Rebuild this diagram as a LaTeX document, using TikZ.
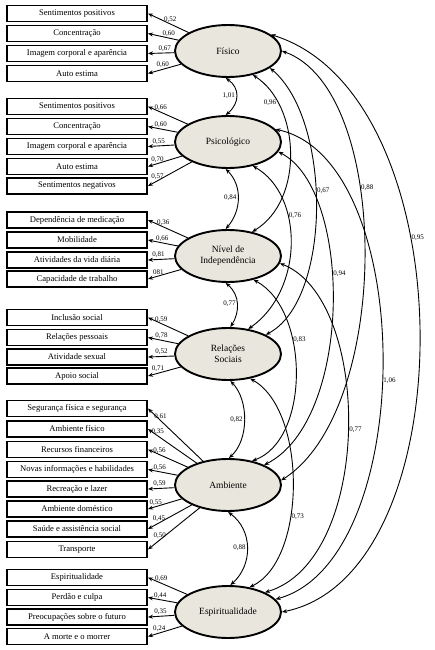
\documentclass[tikz,border=0pt]{standalone}
\usepackage{fontspec}
\setmainfont{Liberation Serif}
\usetikzlibrary{shapes.geometric,arrows.meta}
\definecolor{latfill}{RGB}{233,231,221}
\begin{document}
\begin{tikzpicture}[x=1pt,y=-1pt,
  obs/.style={draw,line width=1.9pt,fill=white,minimum width=140pt,minimum height=16pt,inner sep=0pt,font=\fontsize{8.6}{10}\selectfont},
  lat/.style={draw,ellipse,line width=1.9pt,fill=latfill,minimum width=106pt,minimum height=52pt,inner sep=0pt,align=center,font=\fontsize{9.5}{11}\selectfont},
  ld/.style={line width=0.9pt,-{Stealth[length=5pt,width=4pt]}},
  cv/.style={line width=0.9pt,{Stealth[length=5pt,width=4pt]}-{Stealth[length=5pt,width=4pt]}},
  cf/.style={font=\fontsize{7}{8}\selectfont,inner sep=1pt}]
\useasboundingbox (0,0) rectangle (435,650);

% latent factors
\node[lat] (F) at (228,51) {Físico};
\node[lat] (P) at (228,142) {Psicológico};
\node[lat] (N) at (228,256) {Nível de\\Independência};
\node[lat] (R) at (228,354) {Relações\\Sociais};
\node[lat] (A) at (228,485) {Ambiente};
\node[lat] (E) at (228,612) {Espiritualidade};

% observed boxes
\node[obs] (f1) at (77,13.5) {Sentimentos positivos};
\node[obs] (f2) at (77,33.5) {Concentração};
\node[obs] (f3) at (77,53.5) {Imagem corporal e aparência};
\node[obs] (f4) at (77,73.5) {Auto estima};

\node[obs] (p1) at (77,106.5) {Sentimentos positivos};
\node[obs] (p2) at (77,126.5) {Concentração};
\node[obs] (p3) at (77,146.5) {Imagem corporal e aparência};
\node[obs] (p4) at (77,166.5) {Auto estima};
\node[obs] (p5) at (77,186) {Sentimentos negativos};

\node[obs] (n1) at (77,220) {Dependência de medicação};
\node[obs] (n2) at (77,240) {Mobilidade};
\node[obs] (n3) at (77,260) {Atividades da vida diária};
\node[obs] (n4) at (77,279) {Capacidade de trabalho};

\node[obs] (r1) at (77,317.5) {Inclusão social};
\node[obs] (r2) at (77,337.5) {Relações pessoais};
\node[obs] (r3) at (77,357) {Atividade sexual};
\node[obs] (r4) at (77,376) {Apoio social};

\node[obs] (a1) at (77,408.5) {Segurança física e segurança};
\node[obs] (a2) at (77,429) {Ambiente físico};
\node[obs] (a3) at (77,449.5) {Recursos financeiros};
\node[obs] (a4) at (77,469.5) {Novas informações e habilidades};
\node[obs] (a5) at (77,489) {Recreação e lazer};
\node[obs] (a6) at (77,509) {Ambiente doméstico};
\node[obs] (a7) at (77,529) {Saúde e assistência social};
\node[obs] (a8) at (77,549.5) {Transporte};

\node[obs] (e1) at (77,577.5) {Espiritualidade};
\node[obs] (e2) at (77,597.5) {Perdão e culpa};
\node[obs] (e3) at (77,617) {Preocupações sobre o futuro};
\node[obs] (e4) at (77,636.5) {A morte e o morrer};

% loadings
\draw[ld] (F) -- node[cf,pos=.45,above]{0,52} (f1.east);
\draw[ld] (F) -- node[cf,pos=.32,above]{0,60} (f2.east);
\draw[ld] (F) -- node[cf,pos=.36,above]{0,67} (f3.east);
\draw[ld] (F) -- node[cf,pos=.55,above]{0,60} (f4.east);

\draw[ld] (P) -- node[cf,pos=.68,above]{0,66} (p1.east);
\draw[ld] (P) -- node[cf,pos=.57,above]{0,60} (p2.east);
\draw[ld] (P) -- node[cf,pos=.59,above]{0,55} (p3.east);
\draw[ld] (P) -- node[cf,pos=.72,above]{0,70} (p4.east);
\draw[ld] (P) -- node[cf,pos=.78,above]{0,57} (p5.east);

\draw[ld] (N) -- node[cf,pos=.62,above]{0,36} (n1.east);
\draw[ld] (N) -- node[cf,pos=.52,above]{0,66} (n2.east);
\draw[ld] (N) -- node[cf,pos=.60,above]{0,81} (n3.east);
\draw[ld] (N) -- node[cf,pos=.69,above]{081} (n4.east);

\draw[ld] (R) -- node[cf,pos=.67,above]{0,59} (r1.east);
\draw[ld] (R) -- node[cf,pos=.55,above]{0,78} (r2.east);
\draw[ld] (R) -- node[cf,pos=.48,above]{0,52} (r3.east);
\draw[ld] (R) -- node[cf,pos=.69,above]{0,71} (r4.east);

\draw[ld] (A) -- node[cf,pos=.77,above]{0,61} (a1.east);
\draw[ld] (A) -- node[cf,pos=.80,above]{0,35} (a2.east);
\draw[ld] (A) -- node[cf,pos=.71,above]{0,56} (a3.east);
\draw[ld] (A) -- node[cf,pos=.60,above]{0,56} (a4.east);
\draw[ld] (A) -- node[cf,pos=.56,above]{0,59} (a5.east);
\draw[ld] (A) -- node[cf,pos=.77,above]{0,55} (a6.east);
\draw[ld] (A) -- node[cf,pos=.75,above]{0,45} (a7.east);
\draw[ld] (A) -- node[cf,pos=.77,above]{0,50} (a8.east);

\draw[ld] (E) -- node[cf,pos=.66,above]{0,69} (e1.east);
\draw[ld] (E) -- node[cf,pos=.58,above]{0,44} (e2.east);
\draw[ld] (E) -- node[cf,pos=.53,above]{0,35} (e3.east);
\draw[ld] (E) -- node[cf,pos=.67,above]{0,24} (e4.east);

% correlations between factors
\draw[cv] (F.-95) .. controls (240,88) and (240,103) .. node[cf,left,pos=.5]{1,01} (P.95);
\draw[cv] (P.-95) .. controls (242,185) and (242,210) .. node[cf,left,pos=.5]{0,84} (N.95);
\draw[cv] (N.-95) .. controls (240,295) and (240,312) .. node[cf,left,pos=.5]{0,77} (R.85);
\draw[cv] (R.-85) .. controls (249,400) and (249,440) .. node[cf,left,pos=.5]{0,82} (A.88);
\draw[cv] (A.-90) .. controls (253,530) and (253,565) .. node[cf,left,pos=.5]{0,88} (E.85);

\draw[cv] (F.-44) .. controls (300,105) and (305,200) .. node[cf,left,pos=.22]{0,96} (N.45);
\draw[cv] (P.-44) .. controls (304,195) and (304,290) .. node[cf,right,pos=.35]{0,76} (R.51);
\draw[cv] (F.-22) .. controls (332,120) and (332,300) .. node[cf,right,pos=.45]{0,67} (R.27);
\draw[cv] (F.0) .. controls (392,90) and (392,410) .. node[cf,right,pos=.38]{0,88} (A.5);
\draw[cv] (F.21) .. controls (467,95) and (467,575) .. node[cf,right,pos=.38]{0,95} (E.0);
\draw[cv] (P.-11) .. controls (353,190) and (353,420) .. node[cf,right,pos=.42]{0,94} (A.29);
\draw[cv] (N.-8) .. controls (373,300) and (373,560) .. node[cf,right,pos=.5]{0,77} (E.28);
\draw[cv] (P.15) .. controls (418,160) and (418,560) .. node[cf,right,pos=.53]{1,06} (E.15);
\draw[cv] (N.-43) .. controls (310,310) and (310,440) .. node[cf,right,pos=.35]{0,83} (A.45);
\draw[cv] (R.-48) .. controls (307,410) and (307,560) .. node[cf,right,pos=.62]{0,73} (E.49);
\end{tikzpicture}
\end{document}
